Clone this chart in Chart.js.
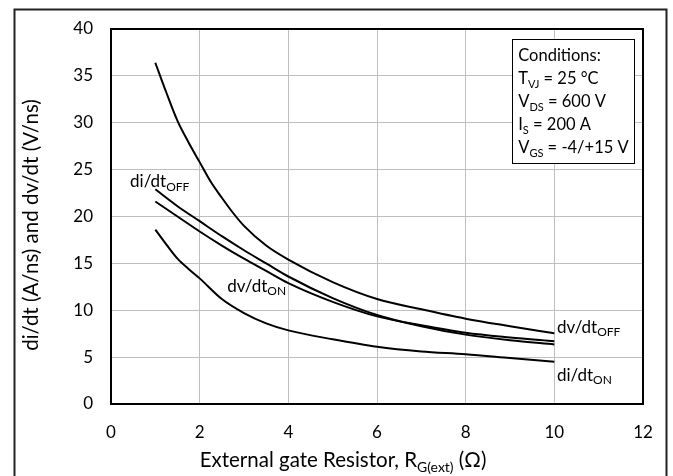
<!DOCTYPE html>
<html><head><meta charset="utf-8">
<script src="https://cdn.jsdelivr.net/npm/chart.js@4.4.1/dist/chart.umd.min.js"></script>
<style>html,body{margin:0;padding:0;background:#fff;}#wrap{width:673px;height:476px;}</style>
</head><body><div id="wrap"><canvas id="c" width="673" height="476"></canvas></div>
<script>
// Data
const R_DVDT_OFF = [1,1.25,1.5,1.75,2,2.25,2.5,2.75,3,3.5,4,5,6,7,8,9,10];
const DVDT_OFF   = [36.4,33.2,30.2,27.9,25.8,23.7,22.0,20.4,19.0,16.9,15.4,13.0,11.2,10.1,9.1,8.3,7.55];
const R_PAIR     = [1,1.5,2,2.5,3,3.5,4,5,6,7,8,9,10];
const DIDT_OFF   = [22.9,21.1,19.5,17.9,16.4,15.0,13.6,11.3,9.5,8.3,7.4,6.8,6.35];
const DVDT_ON    = [21.6,20.0,18.4,16.9,15.5,14.2,12.9,10.9,9.35,8.4,7.6,7.1,6.7];
const R_DIDT_ON  = [1,1.25,1.5,1.75,2,2.5,3,3.5,4,5,6,7,8,9,10];
const DIDT_ON    = [18.6,17.0,15.5,14.4,13.4,11.2,9.7,8.6,7.85,6.9,6.1,5.6,5.3,4.9,4.5];
const X_TICKS = [0,2,4,6,8,10,12];
const Y_TICKS = [0,5,10,15,20,25,30,35,40];

const FONT = 'Lato, "Noto Sans", sans-serif';
const pts = (xs, ys) => xs.map((x,i)=>({x, y: ys[i]}));
const ds = (label, xs, ys) => ({label, data: pts(xs, ys), borderColor:'#000', borderWidth:2, pointRadius:0, fill:false, tension:0.4, cubicInterpolationMode:'monotone'});

function drawParts(ctx, x, y, parts, size, align){
  const subSize = Math.round(size*0.68);
  let w = 0;
  parts.forEach(p=>{ ctx.font = (p[1]?subSize:size)+'px '+FONT; w += ctx.measureText(p[0]).width; });
  let cx = align==='center' ? x - w/2 : x;
  ctx.textBaseline = 'alphabetic'; ctx.textAlign='left';
  parts.forEach(p=>{
    ctx.font = (p[1]?subSize:size)+'px '+FONT;
    ctx.fillText(p[0], cx, p[1] ? y + size*0.22 : y);
    cx += ctx.measureText(p[0]).width;
  });
}

const deco = {
  id:'deco',
  beforeDraw(chart){
    const ctx = chart.ctx;
    ctx.save(); ctx.fillStyle='#fff'; ctx.fillRect(0,0,chart.width,chart.height);
    ctx.strokeStyle='#222'; ctx.lineWidth=2;
    ctx.beginPath(); ctx.moveTo(14.5,480); ctx.lineTo(14.5,9.5); ctx.lineTo(666.5,9.5); ctx.lineTo(666.5,480); ctx.stroke();
    ctx.restore();
  },
  afterDatasetsDraw(chart){
    const ctx = chart.ctx, a = chart.chartArea, xs = chart.scales.x, ys = chart.scales.y;
    ctx.save();
    ctx.strokeStyle='#000'; ctx.lineWidth=2;
    ctx.strokeRect(a.left, a.top, a.right-a.left, a.bottom-a.top);
    ctx.fillStyle='#000';
    drawParts(ctx, xs.getPixelForValue(0.43), ys.getPixelForValue(23.1), [['di/dt',0],['OFF',1]], 17);
    drawParts(ctx, xs.getPixelForValue(2.62), ys.getPixelForValue(12.0), [['dv/dt',0],['ON',1]], 17);
    drawParts(ctx, xs.getPixelForValue(10.06), ys.getPixelForValue(7.6), [['dv/dt',0],['OFF',1]], 17);
    drawParts(ctx, xs.getPixelForValue(10.06), ys.getPixelForValue(2.5), [['di/dt',0],['ON',1]], 17);
    const bx0 = xs.getPixelForValue(9.05), by0 = ys.getPixelForValue(38.9);
    const bx1 = xs.getPixelForValue(11.8), by1 = ys.getPixelForValue(25.7);
    ctx.fillStyle='#fff'; ctx.fillRect(bx0,by0,bx1-bx0,by1-by0);
    ctx.strokeStyle='#000'; ctx.lineWidth=1;
    ctx.strokeRect(Math.round(bx0)+0.5, Math.round(by0)+0.5, Math.round(bx1-bx0), Math.round(by1-by0));
    ctx.fillStyle='#000';
    const lines = [
      [['Conditions:',0]],
      [['T',0],['VJ',1],[' = 25 °C',0]],
      [['V',0],['DS',1],[' = 600 V',0]],
      [['I',0],['S',1],[' = 200 A',0]],
      [['V',0],['GS',1],[' = -4/+15 V',0]]
    ];
    lines.forEach((l,i)=> drawParts(ctx, bx0+6, by0+22+i*23, l, 16.5));
    drawParts(ctx, 343, 467, [['External gate Resistor, R',0],['G(ext)',1],[' (\u03A9)',0]], 20.5, 'center');
    ctx.translate(38, 225); ctx.rotate(-Math.PI/2);
    ctx.font = '20.5px '+FONT; ctx.textAlign='center'; ctx.textBaseline='alphabetic';
    ctx.fillText('di/dt (A/ns) and dv/dt (V/ns)', 0, 0);
    ctx.restore();
  }
};

new Chart(document.getElementById('c'), {
  type:'line',
  data:{ datasets:[
    ds('dv/dt OFF', R_DVDT_OFF, DVDT_OFF),
    ds('di/dt OFF', R_PAIR, DIDT_OFF),
    ds('dv/dt ON', R_PAIR, DVDT_ON),
    ds('di/dt ON', R_DIDT_ON, DIDT_ON)
  ]},
  options:{
    responsive:false, animation:false, devicePixelRatio:1,
    layout:{padding:{left:14, top:29, right:30, bottom:0}},
    plugins:{legend:{display:false}, tooltip:{enabled:false}},
    scales:{
      x:{type:'linear', min:0, max:12,
        afterBuildTicks(s){ s.ticks = X_TICKS.map(v=>({value:v})); },
        afterFit(s){ s.height = 72; },
        grid:{color:'#bfbfbf', lineWidth:1, drawTicks:false},
        border:{display:false},
        ticks:{color:'#000', padding:18, font:{family:FONT, size:17}}
      },
      y:{type:'linear', min:0, max:40,
        afterBuildTicks(s){ s.ticks = Y_TICKS.map(v=>({value:v})); },
        afterFit(s){ s.width = 97; },
        grid:{color:'#bfbfbf', lineWidth:1, drawTicks:false},
        border:{display:false},
        ticks:{color:'#000', padding:18, font:{family:FONT, size:17}}
      }
    }
  },
  plugins:[deco]
});
</script></body></html>
